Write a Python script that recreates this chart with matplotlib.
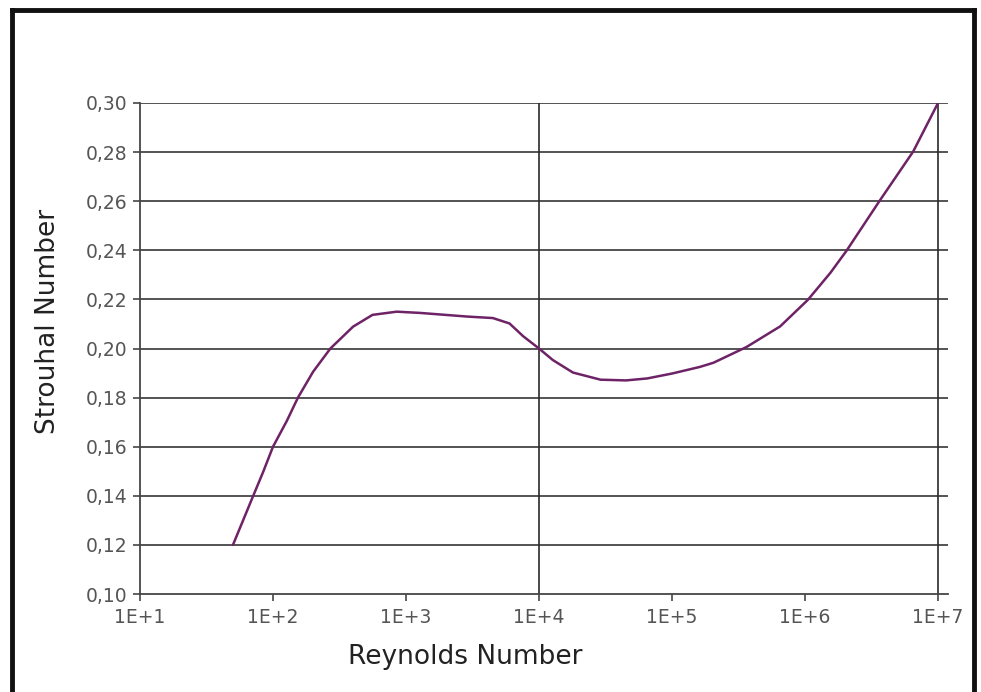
import matplotlib
matplotlib.use("Agg")
import matplotlib.pyplot as plt
from matplotlib.lines import Line2D
from matplotlib.ticker import FixedLocator, FixedFormatter, NullLocator

# Strouhal number vs Reynolds number
reynolds = [50, 71, 84, 100, 127, 154, 200, 270, 400, 560, 850, 1270, 2900, 4500,
            6000, 7600, 10000, 12700, 18000, 29000, 45000, 65000, 100000, 162000,
            205000, 363000, 650000, 1.05e6, 1.55e6, 2.05e6, 3.6e6, 6.5e6, 1e7]
strouhal = [0.120, 0.140, 0.1495, 0.160, 0.1705, 0.180, 0.1905, 0.200, 0.2089, 0.2137,
            0.2150, 0.2145, 0.2130, 0.2124, 0.2102, 0.2050, 0.200, 0.1953, 0.1902,
            0.1873, 0.1870, 0.1878, 0.1898, 0.1925, 0.1942, 0.2006, 0.2090, 0.2198,
            0.2308, 0.2398, 0.2598, 0.2802, 0.300]
x_ticks = [1e1, 1e2, 1e3, 1e4, 1e5, 1e6, 1e7]
x_labels = ["1E+1", "1E+2", "1E+3", "1E+4", "1E+5", "1E+6", "1E+7"]
y_ticks = [0.10, 0.12, 0.14, 0.16, 0.18, 0.20, 0.22, 0.24, 0.26, 0.28, 0.30]
y_labels = [f"{v:.2f}".replace(".", ",") for v in y_ticks]
v_grid = [1e4, 1e7]

W, H = 981, 692
fig = plt.figure(figsize=(W / 100, H / 100), dpi=100)
ax = fig.add_axes([140 / W, 98 / H, 808 / W, 491 / H])

grid_c = "#454545"
for y in y_ticks[1:]:
    ax.axhline(y, color=grid_c, lw=1.3, zorder=1)
for x in v_grid:
    ax.axvline(x, color="#2a2a2a", lw=1.2, zorder=1)

ax.plot(reynolds, strouhal, color="#6e2366", lw=1.8, zorder=3,
        solid_joinstyle="round", solid_capstyle="round")

ax.set_xscale("log")
ax.set_xlim(10, 10 ** 7.075)
ax.set_ylim(0.10, 0.30)
ax.xaxis.set_major_locator(FixedLocator(x_ticks))
ax.xaxis.set_major_formatter(FixedFormatter(x_labels))
ax.xaxis.set_minor_locator(NullLocator())
ax.yaxis.set_major_locator(FixedLocator(y_ticks))
ax.yaxis.set_major_formatter(FixedFormatter(y_labels))

for s in ("top", "right"):
    ax.spines[s].set_visible(False)
for s in ("left", "bottom"):
    ax.spines[s].set_color(grid_c)
    ax.spines[s].set_linewidth(1.3)
ax.tick_params(axis="both", direction="out", length=5, width=1.2, color=grid_c,
               labelsize=13.5, labelcolor="#555555")
ax.tick_params(axis="y", pad=4)
ax.tick_params(axis="x", pad=5)

fig.text(48 / W, 1 - 321 / H, "Strouhal Number", rotation=90, ha="center", va="center",
         fontsize=19, color="#222222")
fig.text(465 / W, 1 - 657 / H, "Reynolds Number", ha="center", va="center",
         fontsize=19, color="#222222")

# frame around the picture (no bottom edge visible)
frame = dict(color="#111111", lw=3.5, transform=fig.transFigure)
fig.add_artist(Line2D([12 / W, 12 / W], [0, 1 - 10 / H], **frame))
fig.add_artist(Line2D([12 / W, 974 / W], [1 - 10 / H, 1 - 10 / H], **frame))
fig.add_artist(Line2D([974 / W, 974 / W], [0, 1 - 10 / H], **frame))

fig.savefig("out.png", dpi=100)
